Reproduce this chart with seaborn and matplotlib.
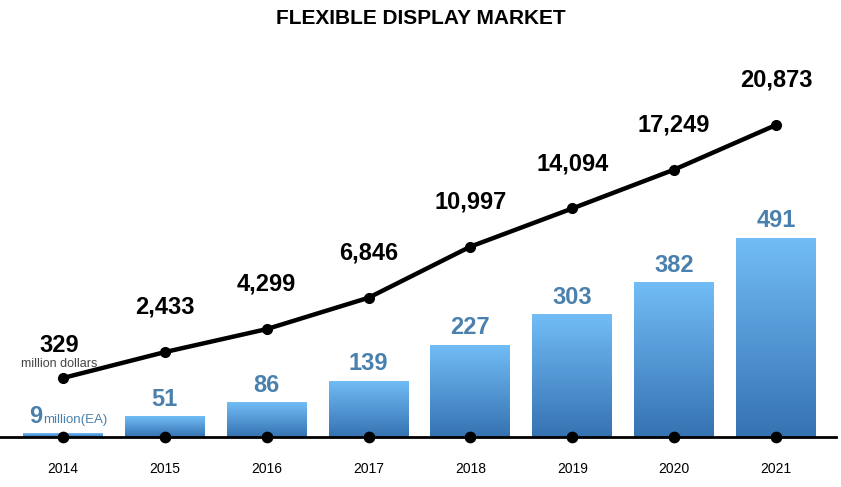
import numpy as np
import pandas as pd
import matplotlib
matplotlib.use("Agg")
import matplotlib.pyplot as plt
import seaborn as sns
from matplotlib.colors import LinearSegmentedColormap

# data
years = ["2014", "2015", "2016", "2017", "2018", "2019", "2020", "2021"]
units_million = [9, 51, 86, 139, 227, 303, 382, 491]
revenue_million = [329, 2433, 4299, 6846, 10997, 14094, 17249, 20873]

sns.set_theme(style="white")
plt.rcParams["font.family"] = ["Liberation Sans", "DejaVu Sans"]

df = pd.DataFrame({"year": years, "units": units_million, "revenue": revenue_million})
x = np.arange(len(df))

fig = plt.figure(figsize=(8.41, 4.87), dpi=100)
ax = fig.add_axes([0.0, 50 / 487, 836 / 841, 397 / 487])

sns.barplot(data=df, x="year", y="units", ax=ax, width=0.785, color="#5fa4e3",
            saturation=1, edgecolor="none")

# gradient fill per bar (light top -> darker bottom)
cmap = LinearSegmentedColormap.from_list("bluegrad", ["#3572b2", "#72bdf6"])
grad = np.linspace(0, 1, 256).reshape(-1, 1)
for patch in ax.patches:
    bx, by = patch.get_x(), patch.get_y()
    bw, bh = patch.get_width(), patch.get_height()
    im = ax.imshow(grad, cmap=cmap, origin="lower", aspect="auto",
                   extent=[bx, bx + bw, by, by + bh], zorder=2)
    im.set_clip_path(patch)
    patch.set_alpha(0)

ax.set_xlim(-0.618, 7.589)
ax.set_ylim(0, 979.5)

# blue value labels above bars
blue = "#4a80ad"
for xi, v in zip(x[1:], df["units"][1:]):
    ax.annotate(f"{v}", (xi, v), xytext=(0, 4), textcoords="offset points",
                ha="center", va="bottom", fontsize=17, fontweight="bold", color=blue)
ax.annotate(f"{df['units'][0]}", (x[0], df["units"][0]), xytext=(-15, 4), textcoords="offset points",
            ha="right", va="bottom", fontsize=17, fontweight="bold", color=blue)
ax.annotate("million(EA)", (x[0], df["units"][0]), xytext=(-14, 5), textcoords="offset points",
            ha="left", va="bottom", fontsize=9.5, color=blue)

# black dots at baseline
ax.scatter(x, np.zeros(len(x)), s=55, color="black", zorder=5, clip_on=False)

ax.set_xlabel("")
ax.set_ylabel("")
ax.set_yticks([])
ax.tick_params(axis="x", length=0, pad=18, labelsize=10, labelcolor="black")
for s in ["top", "right", "left"]:
    ax.spines[s].set_visible(False)
ax.spines["bottom"].set_color("black")
ax.spines["bottom"].set_linewidth(2)

# line on twin axis
ax2 = ax.twinx()
ax2.plot(x, df["revenue"], color="black", lw=3.2, marker="o", markersize=7, zorder=6)
ax2.set_ylim(-4462, 27775)
ax2.set_yticks([])
for s in ax2.spines.values():
    s.set_visible(False)

for xi, v in zip(x[1:], df["revenue"][1:]):
    ax2.annotate(f"{v:,}", (xi, v), xytext=(0, 24), textcoords="offset points",
                 ha="center", va="bottom", fontsize=17, fontweight="bold", color="black")
ax2.annotate(f"{df['revenue'][0]:,}", (x[0], df["revenue"][0]), xytext=(-3, 15), textcoords="offset points",
             ha="center", va="bottom", fontsize=17, fontweight="bold", color="black")
ax2.annotate("million dollars", (x[0], df["revenue"][0]), xytext=(-3, 6), textcoords="offset points",
             ha="center", va="bottom", fontsize=9, color="#444444")

fig.text(0.5, 0.962, "FLEXIBLE DISPLAY MARKET", ha="center", va="center",
         fontsize=15, fontweight="bold", color="black")

fig.savefig("out.png", dpi=100)
